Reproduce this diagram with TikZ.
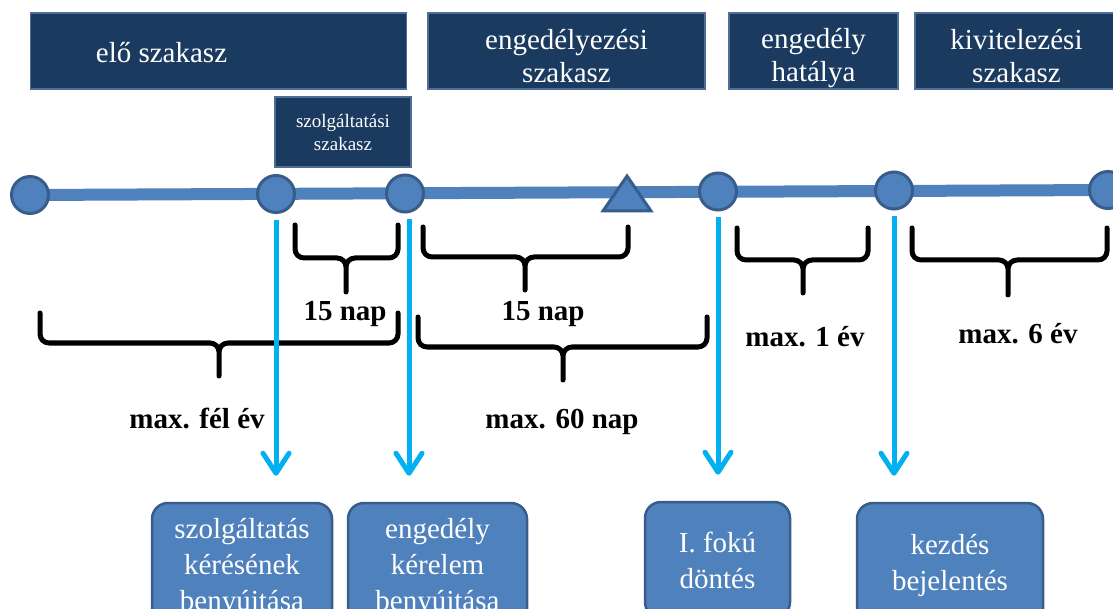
\documentclass[tikz,border=0pt]{standalone}
\usepackage{fontspec}
\setmainfont{Liberation Serif}
\usetikzlibrary{arrows.meta,backgrounds}

\definecolor{navy}{HTML}{1B3A5F}
\definecolor{navyedge}{HTML}{4F6E96}
\definecolor{steel}{HTML}{4F81BD}
\definecolor{steeledge}{HTML}{385D8A}
\definecolor{skyline}{HTML}{00B0F0}

\tikzset{
  phasebox/.style={draw=navyedge, fill=navy, line width=1.5pt, text=white, align=center, inner sep=0pt},
  phase/.style={phasebox, minimum height=76pt},
  phasetext/.style={text=white, align=center, inner sep=0pt, yshift=-5pt, font=\fontsize{29}{33}\selectfont},
  milestone/.style={circle, draw=steeledge, fill=steel, line width=3pt, minimum size=37pt, inner sep=0pt},
  event/.style={draw=steeledge, fill=steel, line width=2.5pt, rounded corners=16pt, text=white,
    align=center, inner sep=0pt, font=\fontsize{29}{36}\selectfont},
  spanbrace/.style={line width=5pt, rounded corners=9pt, line cap=round},
  spanlabel/.style={anchor=base, inner sep=0pt, font=\bfseries\fontsize{29}{35}\selectfont},
  drop/.style={skyline, line width=5pt, shorten <=6pt, shorten >=26pt,
    -{Straight Barb[length=20pt,width=26pt,round]}}
}

\begin{document}
\begin{tikzpicture}[x=1pt,y=-1pt]
    \useasboundingbox (0,0) rectangle (1113,609);
    \clip (0,0) rectangle (1113,609);

    % phases on top
    \node[phase, minimum width=376pt, label={[phasetext, xshift=-57pt, yshift=3pt]center:elő szakasz}] (pre) at (218.5,51) {};
    \node[phasebox, minimum width=136pt, minimum height=70pt, font=\fontsize{19}{23}\selectfont] (serv) at (343,132) {szolgáltatási\\szakasz};
    \node[phase, minimum width=277pt, label={[phasetext]center:engedélyezési\\szakasz}] (perm) at (566.5,51) {};
    \node[phase, minimum width=169pt, label={[phasetext, yshift=-2pt]center:engedély\\hatálya}] (valid) at (813.5,51) {};
    \node[phase, minimum width=203pt, label={[phasetext]center:kivitelezési\\szakasz}] (build) at (1016.5,51) {};

    % timeline
    \node[milestone] (m1) at (30,195) {};
    \node[milestone] (m2) at (276,194) {};
    \node[milestone] (m3) at (405,193.5) {};
    \node[milestone] (m4) at (718,191.5) {};
    \node[milestone] (m5) at (894,190.5) {};
    \node[milestone] (m6) at (1108,190) {};
    \begin{scope}[on background layer]
        \fill[white] (0,0) rectangle (1113,609);
        \draw[steel, line width=12pt] (m1.center) -- (m6.center);
    \end{scope}
    \draw[steeledge, fill=steel, line width=3pt] (603,211) -- (627,176) -- (651,211) -- cycle;

    % braces
    \draw[spanbrace] (295,225) |- (346,258) -- (346,292) (398,225) |- (346,258) -- (346,292);
    \draw[spanbrace] (423,227) |- (525,257) -- (525,290) (628,227) |- (525,257) -- (525,290);
    \draw[spanbrace] (40,313) |- (219,343) -- (219,376) (398,313) |- (219,343) -- (219,376);
    \draw[spanbrace] (418,317) |- (563,347) -- (563,380) (707,317) |- (563,347) -- (563,380);
    \draw[spanbrace] (737,228) |- (803,260) -- (803,293) (868,228) |- (803,260) -- (803,293);
    \draw[spanbrace] (912,228) |- (1008,260) -- (1008,295) (1107,228) |- (1008,260) -- (1008,295);

    \node[spanlabel] (d1) at (345,320) {15 nap};
    \node[spanlabel] (d2) at (543,320) {15 nap};
    \node[spanlabel] (d3) at (197,428) {max. fél év};
    \node[spanlabel] (d4) at (562,428) {max. 60 nap};
    \node[spanlabel] (d5) at (805,347) {max. 1 év};
    \node[spanlabel] (d6) at (1018,344) {max. 6 év};

    % events at the bottom
    \node[event, minimum width=180pt, minimum height=130pt] (e1) at (242,568) {szolgáltatás\\kérésének\\benyújtása};
    \node[event, minimum width=179pt, minimum height=130pt] (e2) at (437.5,568) {engedély\\kérelem\\benyújtása};
    \node[event, minimum width=145pt, minimum height=116pt] (e3) at (717.5,560) {I. fokú\\döntés};
    \node[event, minimum width=186pt, minimum height=126pt] (e4) at (950,566) {kezdés\\bejelentés};

    \draw[drop] (m2.south) -- (m2.south |- e1.north);
    \draw[drop] ([xshift=4pt]m3.south) -- ([xshift=4pt]m3.south |- e2.north);
    \draw[drop] (m4.south) -- (m4.south |- e3.north);
    \draw[drop] (m5.south) -- (m5.south |- e4.north);
\end{tikzpicture}
\end{document}
